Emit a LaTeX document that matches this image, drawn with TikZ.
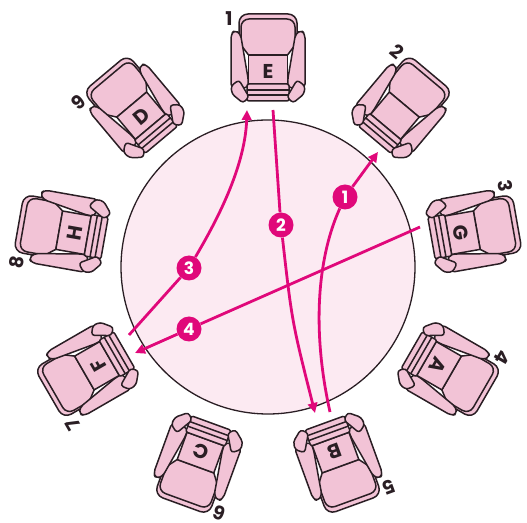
\documentclass[tikz,border=0pt]{standalone}
\usepackage{fontspec}
\setmainfont{Poppins}
\usetikzlibrary{arrows.meta}

\definecolor{ink}{HTML}{2A1E24}
\definecolor{seatpink}{HTML}{F2C3D6}
\definecolor{tabletop}{HTML}{FCEAF2}
\definecolor{route}{HTML}{E0087A}

\tikzset{
  chairpart/.style={draw=ink, fill=seatpink, line width=1.5pt, line join=round},
  chairline/.style={draw=ink, line width=1.5pt, line cap=round},
  seatletter/.style={font=\fontsize{20}{20}\selectfont\bfseries, text=ink, inner sep=0pt, transform shape},
  seatnum/.style={font=\fontsize{19}{19}\selectfont\bfseries, text=ink, inner sep=0pt, transform shape},
  routeline/.style={draw=route, line width=2.8pt},
  routetip/.style={routeline, -{Triangle[length=10pt,width=9.5pt]}},
  stepmark/.style={circle, fill=route, text=white, minimum size=25pt, inner sep=0pt,
                   font=\fontsize{17}{17}\selectfont\bfseries},
  tablestyle/.style={circle, draw=ink, fill=tabletop, line width=1.3pt, minimum size=294pt, inner sep=0pt},
  % an armchair seen from above, back up, front down
  armchair/.pic={
    % back shell
    \path[chairpart, rounded corners=9pt] (-29,8) rectangle (29,43);
    % back cushion
    \path[chairpart] (-27,12) -- (-27,30) to[out=90,in=180] (-19,38) -- (19,38)
      to[out=0,in=90] (27,30) -- (27,12) -- (19.5,2) -- (-19.5,2) -- cycle;
    % arms
    \foreach \s in {1,-1} {
      \path[chairpart, xscale=\s, rounded corners=4pt]
        (-27.5,23) -- (-33,27) -- (-37,23) -- (-37,-31) -- (-20,-31) -- (-19.5,-24) -- cycle;
    }
    % seat
    \path[chairpart] (-19.5,2) rectangle (19.5,-27);
    % front apron
    \path[chairpart, rounded corners=2pt] (-21,-27) -- (-21,-44) -- (21,-44) -- (21,-27) -- cycle;
    \path[chairline] (-21,-33) -- (21,-33) (-21,-38) -- (21,-38);
    % arm caps
    \foreach \s in {1,-1} {
      \path[chairpart, xscale=\s, rounded corners=3pt]
        (-37,-29) -- (-29,-23) -- (-19,-40) -- (-25,-46) -- (-36,-37) -- cycle;
    }
  }
}

\begin{document}
\begin{tikzpicture}[x=1pt, y=1pt]
\useasboundingbox (0,0) rectangle (527,522);

% the table
\node[tablestyle] (table) at (268,255) {};

% nine armchairs round the table, numbered clockwise from the top
\foreach \i/\N in {0/1,1/2,2/3,3/4,4/5,5/6,6/7,7/8,8/9} {
  \begin{scope}[shift={(268,255)}, rotate=-40*\i, shift={(0,210)}]
    \pic[transform shape] {armchair};
    \node[seatnum] (num\N) at (-39,38) {\N};
  \end{scope}
}
% letters on the seats
\foreach \i/\L in {0/E,2/G,3/A,4/B,5/C,6/F,7/H,8/D} {
  \begin{scope}[shift={(268,255)}, rotate=-40*\i, shift={(0,210)}]
    \node[seatletter] (seat\L) at (0,-14) {\L};
  \end{scope}
}

% route ends and step marks
\coordinate (s1) at (330,110);
\coordinate (t1) at (378,370);
\coordinate (s2) at (273,412);
\coordinate (t2) at (315,109);
\coordinate (s3) at (129,187);
\coordinate (t3) at (247,412);
\coordinate (s4) at (420,295);
\coordinate (t4) at (135,169);

\node[stepmark] (n1) at (345,325) {1};
\node[stepmark] (n2) at (281,297) {2};
\node[stepmark] (n3) at (189,254) {3};
\node[stepmark] (n4) at (189,193) {4};

% routes
\draw[routeline] (s1) .. controls (310,200) and (320,270) .. (n1);
\draw[routetip] (n1) -- (t1);
\draw[routeline] (s2) .. controls (276,360) .. (n2);
\draw[routetip] (n2) .. controls (292,200) .. (t2);
\draw[routeline] (s3) -- (n3);
\draw[routetip] (n3) .. controls (210,290) and (245,350) .. (t3);
\draw[routeline] (s4) -- (n4);
\draw[routetip] (n4) -- (t4);
\end{tikzpicture}
\end{document}
